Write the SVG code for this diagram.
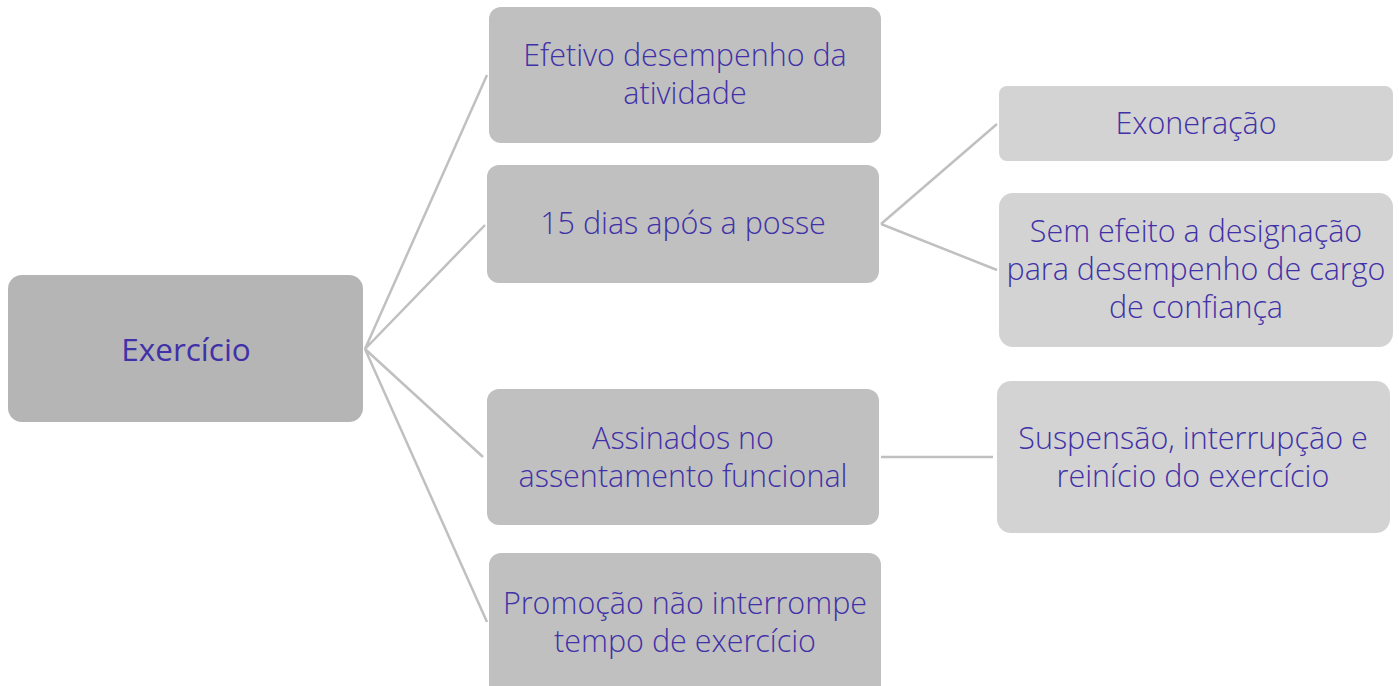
<svg xmlns="http://www.w3.org/2000/svg" width="1399" height="686" viewBox="0 0 1399 686">
<style>
.root{fill:#b5b5b5}
.l1{fill:#c0c0c0}
.l2{fill:#d3d3d3}
text{font-family:"Open Sans","Liberation Sans",sans-serif;font-weight:300;fill:#4131a8;text-anchor:middle;font-size:30.5px}
.big{font-size:31.5px;font-weight:400}
.conn{stroke:#c0c0c0;stroke-width:2.5;fill:none}
</style>
<rect width="1399" height="686" fill="#ffffff"/>
<g id="connectors">
<path class="conn" d="M365 349 L487 75 M365 349 L485 225 M365 349 L483 457 M365 349 L487 622"/>
<path class="conn" d="M881 224 L997 124 M881 224 L997 270"/>
<path class="conn" d="M881 457 L993 457"/>
</g>
<g id="n-root">
<rect class="root" x="8" y="275" width="355" height="147" rx="14"/>
<text class="big" x="186" y="361">Exercício</text>
</g>
<g id="n-efetivo">
<rect class="l1" x="489" y="7" width="392" height="136" rx="12"/>
<text x="685" y="66">Efetivo desempenho da</text>
<text x="685" y="104">atividade</text>
</g>
<g id="n-15dias">
<rect class="l1" x="487" y="165" width="392" height="118" rx="12"/>
<text x="683" y="234">15 dias após a posse</text>
</g>
<g id="n-assinados">
<rect class="l1" x="487" y="389" width="392" height="136" rx="12"/>
<text x="683" y="448.5">Assinados no</text>
<text x="683" y="486.5">assentamento funcional</text>
</g>
<g id="n-promocao">
<rect class="l1" x="489" y="553" width="392" height="150" rx="12"/>
<text x="685" y="613.5">Promoção não interrompe</text>
<text x="685" y="651.5">tempo de exercício</text>
</g>
<g id="n-exoneracao">
<rect class="l2" x="999" y="86" width="394" height="75" rx="8"/>
<text x="1196" y="134">Exoneração</text>
</g>
<g id="n-semefeito">
<rect class="l2" x="999" y="193" width="394" height="154" rx="14"/>
<text x="1196" y="242">Sem efeito a designação</text>
<text x="1196" y="280">para desempenho de cargo</text>
<text x="1196" y="318">de confiança</text>
</g>
<g id="n-suspensao">
<rect class="l2" x="997" y="381" width="393" height="152" rx="14"/>
<text x="1193" y="448.5">Suspensão, interrupção e</text>
<text x="1193" y="486.5">reinício do exercício</text>
</g>
</svg>
